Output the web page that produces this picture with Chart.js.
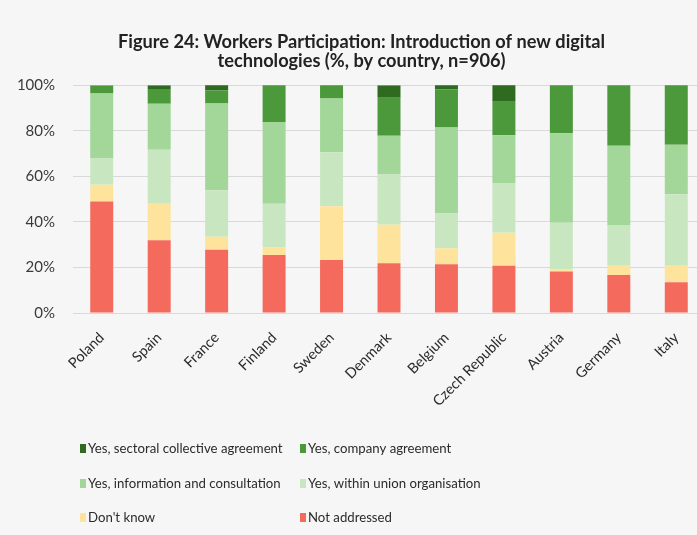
<!DOCTYPE html>
<html>
<head>
<meta charset="utf-8">
<script src="https://cdn.jsdelivr.net/npm/chart.js@4/dist/chart.umd.min.js"></script>
<style>
html,body{margin:0;padding:0;background:#f6f6f6;overflow:hidden;width:697px;height:535px;}
canvas{display:block;}
</style>
</head>
<body>
<canvas id="c" width="705" height="535"></canvas>
<script>
const countries = ['Poland','Spain','France','Finland','Sweden','Denmark','Belgium','Czech Republic','Austria','Germany','Italy'];
const notAddressed = [49, 32, 27.8, 25.5, 23.3, 21.8, 21.4, 20.8, 18.2, 16.7, 13.5];
const dontKnow     = [7.3, 16, 5.7, 3.3, 23.6, 17, 7, 14.5, 1, 4.4, 7.3];
const withinUnion  = [11.6, 23.7, 20.4, 19.2, 23.7, 22, 15.3, 21.8, 20.4, 17.5, 31.3];
const infoConsult  = [28.5, 20.2, 38.1, 35.9, 23.6, 17, 37.8, 21, 39.3, 34.9, 21.8];
const companyAgr   = [3.6, 6.5, 5.8, 16.2, 6, 16.7, 16.7, 14.7, 21.3, 26.6, 26.2];
const sectoralAgr  = [0, 1.6, 2.3, 0, 0, 5.5, 1.9, 7.3, 0, 0, 0];
const yTicks = [0, 20, 40, 60, 80, 100];
const titleLines = ['Figure 24: Workers Participation: Introduction of new digital', 'technologies (%, by country, n=906)'];

const series = [
  {label:'Not addressed', data:notAddressed, color:'#f46b5d'},
  {label:"Don't know", data:dontKnow, color:'#fde39b'},
  {label:'Yes, within union organisation', data:withinUnion, color:'#c8e7c0'},
  {label:'Yes, information and consultation', data:infoConsult, color:'#a3d699'},
  {label:'Yes, company agreement', data:companyAgr, color:'#4c993b'},
  {label:'Yes, sectoral collective agreement', data:sectoralAgr, color:'#2e6a20'}
];
// legend grid order (row-major, 2 columns)
const legendOrder = ['Yes, sectoral collective agreement','Yes, company agreement','Yes, information and consultation','Yes, within union organisation',"Don't know",'Not addressed'];

const FONT = 'Lato, "Open Sans", sans-serif';

const gridLegend = {
  id:'gridLegend',
  afterDraw(chart){
    const ctx = chart.ctx;
    ctx.save();
    ctx.font = '13.2px ' + FONT;
    ctx.textBaseline = 'middle';
    ctx.textAlign = 'left';
    const colX = [80, 300];
    const rowY = [449, 484, 518];
    legendOrder.forEach((lab, i) => {
      const ds = chart.data.datasets.find(d => d.label === lab);
      const x = colX[i % 2], y = rowY[Math.floor(i / 2)];
      ctx.fillStyle = ds.backgroundColor;
      ctx.fillRect(x, y - 5, 6, 9);
      ctx.fillStyle = '#2b2b2b';
      ctx.fillText(lab, x + 8, y);
    });
    ctx.restore();
  }
};

new Chart(document.getElementById('c'), {
  type:'bar',
  data:{
    labels: countries,
    datasets: series.map(s => ({
      label:s.label, data:s.data, backgroundColor:s.color, borderWidth:0,
      barPercentage:0.4, categoryPercentage:1.0, stack:'s'
    }))
  },
  options:{
    responsive:false,
    devicePixelRatio:1,
    animation:false,
    layout:{padding:{left:18, right:0, top:0, bottom:120}},
    plugins:{
      legend:{display:false},
      tooltip:{enabled:false},
      title:{
        display:true,
        text:titleLines,
        color:'#222222',
        font:{family:FONT, size:18.2, weight:'bold', lineHeight:1.08},
        padding:{top:32, bottom:14}
      }
    },
    scales:{
      x:{
        stacked:true,
        grid:{display:false},
        border:{display:false},
        ticks:{
          color:'#2b2b2b', font:{family:FONT, size:14.5},
          minRotation:45, maxRotation:45, autoSkip:false, padding:8
        },
        afterFit(scale){ scale.height = 102; }
      },
      y:{
        stacked:true,
        min:0, max:100,
        afterBuildTicks(scale){ scale.ticks = yTicks.map(v => ({value:v})); },
        grid:{color:'#d9d9d9', lineWidth:1, drawTicks:false},
        border:{display:false},
        ticks:{
          color:'#3a3a3a', font:{family:FONT, size:15}, padding:18,
          callback:v => v + '%'
        },
        afterFit(scale){ scale.width = 55; }
      }
    }
  },
  plugins:[gridLegend]
});
</script>
</body>
</html>
